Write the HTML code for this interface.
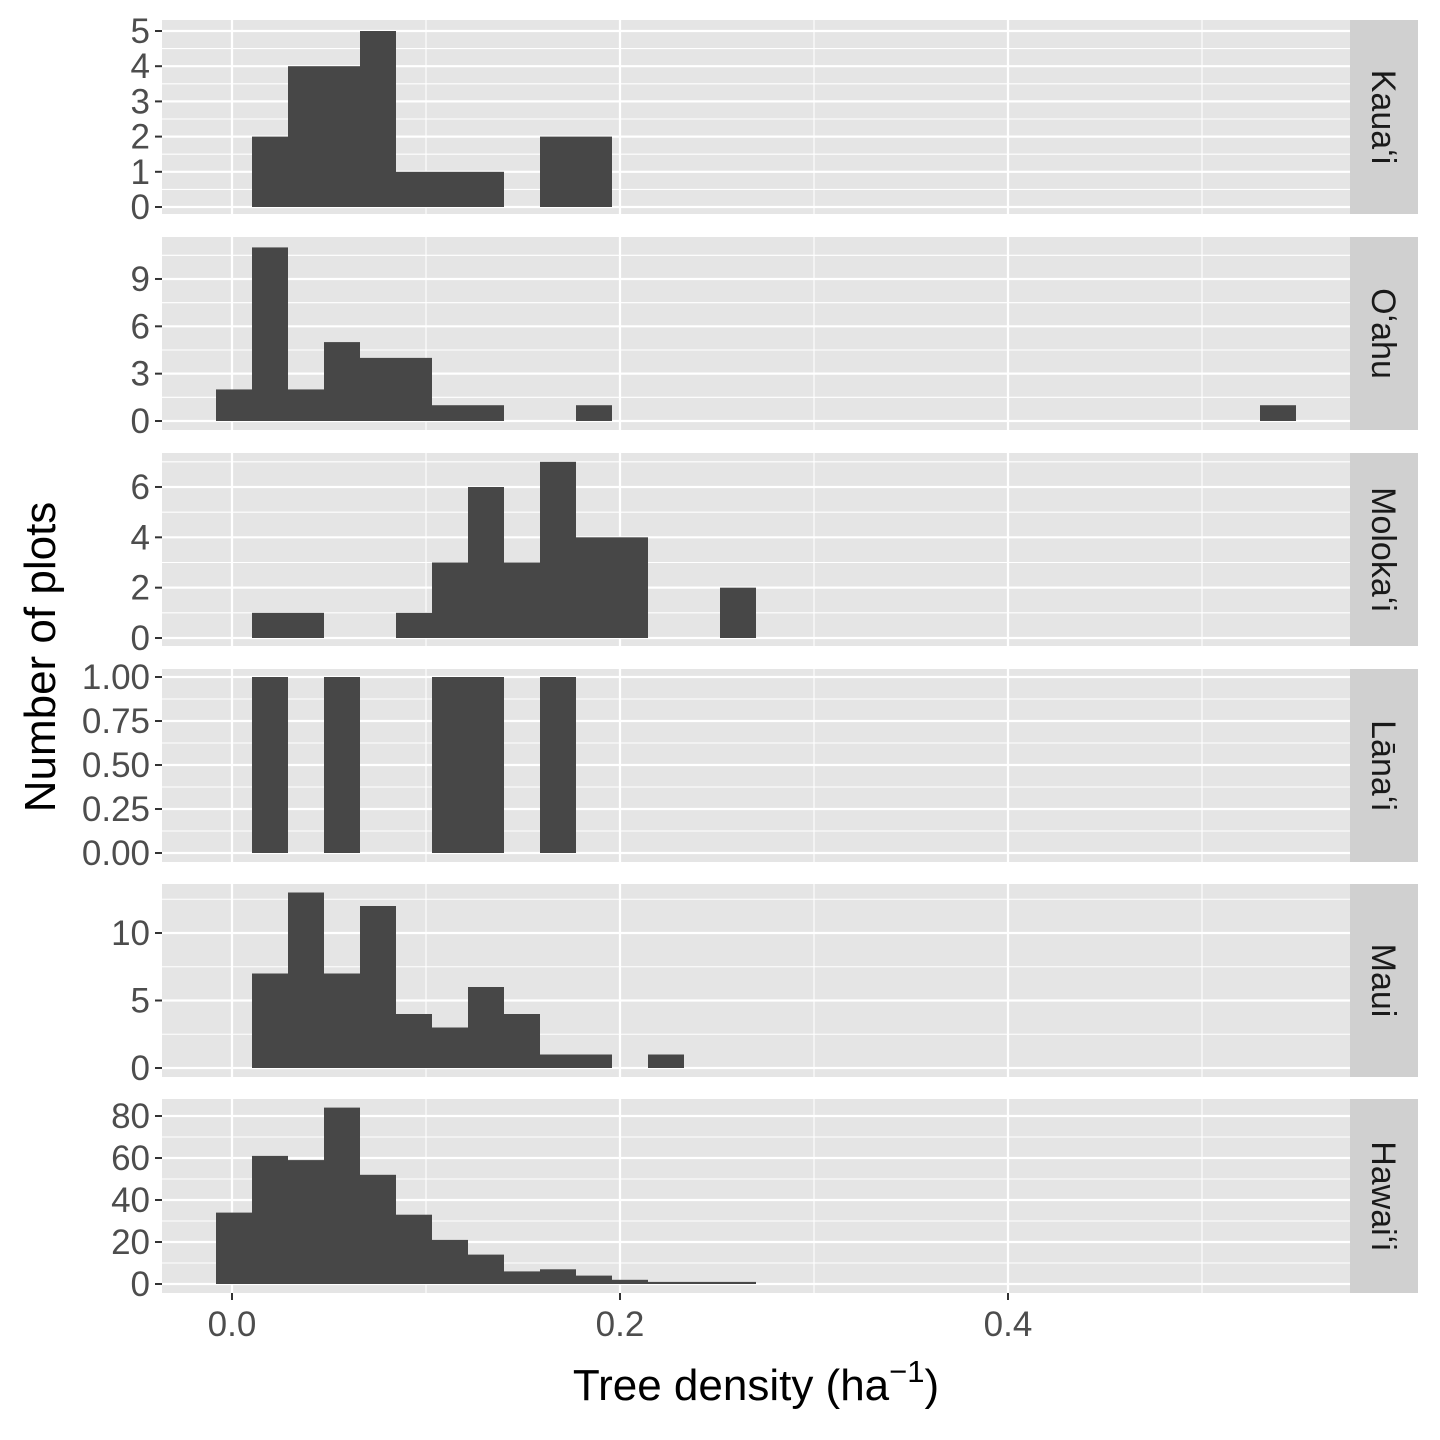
<!DOCTYPE html>
<html><head><meta charset="utf-8"><style>
html,body{margin:0;padding:0;background:#fff;}
svg{display:block;font-family:"Liberation Sans",Arial,sans-serif;}
</style></head><body>
<svg id="s" width="1440" height="1440" viewBox="0 0 1440 1440" xmlns="http://www.w3.org/2000/svg"></svg>
<script>
const S=document.getElementById('s');let h='';
const X0=162,X1=1350;
const panels=[
 {t:20,b:214,y0:207,ypu:35.2,ticks:[0,1,2,3,4,5],minor:0.5,lab:v=>String(v),name:"Kauaʻi",
  bars:[[252,2],[288,4],[324,4],[360,5],[396,1],[432,1],[468,1],[540,2],[576,2]]},
 {t:237,b:430,y0:421,ypu:15.78,ticks:[0,3,6,9],minor:1.5,lab:v=>String(v),name:"Oʻahu",
  bars:[[216,2],[252,11],[288,2],[324,5],[360,4],[396,4],[432,1],[468,1],[576,1],[1260,1]]},
 {t:453,b:646,y0:638,ypu:25.17,ticks:[0,2,4,6],minor:1,lab:v=>String(v),name:"Molokaʻi",
  bars:[[252,1],[288,1],[396,1],[432,3],[468,6],[504,3],[540,7],[576,4],[612,4],[720,2]]},
 {t:669,b:862,y0:853,ypu:176,ticks:[0,0.25,0.5,0.75,1],minor:0.125,lab:v=>v.toFixed(2),name:"Lānaʻi",
  bars:[[252,1],[324,1],[432,1],[468,1],[540,1]]},
 {t:884,b:1077,y0:1068,ypu:13.5,ticks:[0,5,10],minor:2.5,lab:v=>String(v),name:"Maui",
  bars:[[252,7],[288,13],[324,7],[360,12],[396,4],[432,3],[468,6],[504,4],[540,1],[576,1],[648,1]]},
 {t:1099,b:1293,y0:1284,ypu:2.1,ticks:[0,20,40,60,80],minor:10,lab:v=>String(v),name:"Hawaiʻi",
  bars:[[216,34],[252,61],[288,59],[324,84],[360,52],[396,33],[432,21],[468,14],[504,6],[540,7],[576,4],[612,2],[648,1],[684,1],[720,1]]}
];
for(const p of panels){
 h+=`<rect x="${X0}" y="${p.t}" width="${X1-X0}" height="${p.b-p.t}" fill="#e5e5e5"/>`;
 for(let v=0;;v+=p.minor){const y=p.y0-v*p.ypu;if(y<p.t)break;
   const maj=p.ticks.some(t=>Math.abs(t-v)<1e-9);
   h+=`<line x1="${X0}" x2="${X1}" y1="${y}" y2="${y}" stroke="#fff" stroke-width="${maj?2.2:1.1}"/>`;}
 {const y=p.y0+p.minor*p.ypu; if(y<p.b) h+=`<line x1="${X0}" x2="${X1}" y1="${y}" y2="${y}" stroke="#fff" stroke-width="1.1"/>`;}
 for(const x of [426,814,1202])h+=`<line x1="${x}" x2="${x}" y1="${p.t}" y2="${p.b}" stroke="#fff" stroke-width="1.1"/>`;
 for(const x of [232,620,1008])h+=`<line x1="${x}" x2="${x}" y1="${p.t}" y2="${p.b}" stroke="#fff" stroke-width="2.2"/>`;
 for(const [x,c] of p.bars){h+=`<rect x="${x}" y="${p.y0-c*p.ypu}" width="36" height="${c*p.ypu}" fill="#474747"/>`;}
 for(const t of p.ticks){const y=p.y0-t*p.ypu;
   h+=`<line x1="155" x2="162" y1="${y}" y2="${y}" stroke="#333" stroke-width="2"/>`;
   h+=`<text x="150" y="${y+12}" font-size="35" fill="#4d4d4d" text-anchor="end">${p.lab(t)}</text>`;}
 h+=`<rect x="1350" y="${p.t}" width="68" height="${p.b-p.t}" fill="#d0d0d0"/>`;
 const cy=(p.t+p.b)/2;
 h+=`<text x="1372" y="${cy}" font-size="34" fill="#1a1a1a" text-anchor="middle" transform="rotate(90 1372 ${cy})">${p.name}</text>`;
}
for(const [x,l] of [[232,"0.0"],[620,"0.2"],[1008,"0.4"]]){
 h+=`<line x1="${x}" x2="${x}" y1="1293" y2="1300" stroke="#333" stroke-width="2"/>`;
 h+=`<text x="${x}" y="1336" font-size="35" fill="#4d4d4d" text-anchor="middle">${l}</text>`;}
h+=`<text x="756" y="1400" font-size="44" fill="#000" text-anchor="middle"><tspan>Tree density (ha</tspan><tspan dy="-18" font-size="31">−1</tspan><tspan dy="18">)</tspan></text>`;
h+=`<text x="40" y="657" font-size="44" fill="#000" text-anchor="middle" transform="rotate(-90 40 657)" dy="15">Number of plots</text>`;
S.innerHTML=h;
</script>
</body></html>
